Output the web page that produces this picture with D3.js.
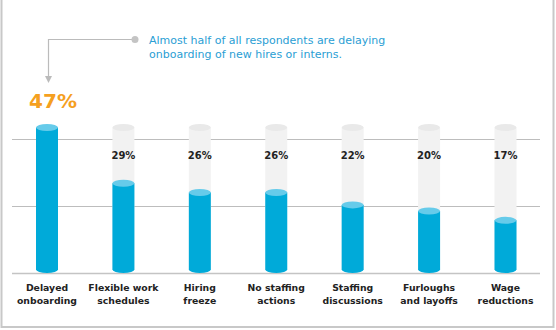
<!DOCTYPE html>
<html>
<head>
<meta charset="utf-8">
<script src="https://cdn.jsdelivr.net/npm/d3@7"></script>
<style>
  body { margin: 0; background: #fff; }
  svg { display: block; }
</style>
</head>
<body>
<div id="chart"></div>
<script>
// data
const categories = ["Delayed onboarding", "Flexible work schedules", "Hiring freeze",
  "No staffing actions", "Staffing discussions", "Furloughs and layoffs", "Wage reductions"];
const labelLines = [["Delayed", "onboarding"], ["Flexible work", "schedules"], ["Hiring", "freeze"],
  ["No staffing", "actions"], ["Staffing", "discussions"], ["Furloughs", "and layoffs"], ["Wage", "reductions"]];
const values = [47, 29, 26, 26, 22, 20, 17];
const gridValues = [0, 21.6, 43.3];
const note = ["Almost half of all respondents are delaying", "onboarding of new hires or interns."];

const width = 556;
const height = 330;
const font = "'DejaVu Sans', sans-serif";

const svg = d3.select("#chart")
  .append("svg")
  .attr("width", width)
  .attr("height", height);

// frame (left, right, bottom)
svg.append("path")
  .attr("d", `M1.5,0 V327 H553.5 V0`)
  .attr("fill", "none")
  .attr("stroke", "#c8c8c8")
  .attr("stroke-width", 2);

const x = d3.scalePoint().domain(categories).range([47, 505.5]);
const y = d3.scaleLinear().domain([0, 47]).range([273, 127.5]);
const bw = 22, ry = 3.5;

// gridlines
svg.append("g")
  .selectAll("line")
  .data(gridValues)
  .join("line")
    .attr("x1", 12).attr("x2", 540)
    .attr("y1", d => Math.round(y(d)) + 0.5)
    .attr("y2", d => Math.round(y(d)) + 0.5)
    .attr("stroke", d => d === 0 ? "#c4c4c4" : "#bdbdbd")
    .attr("stroke-width", d => d === 0 ? 1.5 : 1);

// cylinder shape from value v
const cyl = v => {
  const x0 = -bw / 2, x1 = bw / 2, top = y(v), bot = y(0) - ry;
  return `M${x0},${top} V${bot} A${bw / 2},${ry} 0 0 0 ${x1},${bot} V${top} Z`;
};

const bars = svg.append("g")
  .selectAll("g")
  .data(categories)
  .join("g")
    .attr("transform", d => `translate(${x(d)},0)`);

// gray track (all but the first)
bars.filter((d, i) => i > 0).append("path")
  .attr("d", cyl(47))
  .attr("fill", "#f2f2f2");
bars.filter((d, i) => i > 0).append("ellipse")
  .attr("cy", y(47)).attr("rx", bw / 2).attr("ry", ry)
  .attr("fill", "#e9e9e9");

// blue bar
bars.append("path")
  .attr("d", (d, i) => cyl(values[i]))
  .attr("fill", "#00aad9");
bars.append("ellipse")
  .attr("cy", (d, i) => y(values[i])).attr("rx", bw / 2).attr("ry", ry)
  .attr("fill", "#66cbea");

// value labels
bars.filter((d, i) => i > 0).append("text")
  .attr("y", 159)
  .attr("text-anchor", "middle")
  .attr("font-family", font)
  .attr("font-weight", "bold")
  .attr("font-size", 10)
  .attr("fill", "#222")
  .text((d, i) => values[i + 1] + "%");

svg.append("text")
  .attr("x", x(categories[0]) + 6)
  .attr("y", 108)
  .attr("text-anchor", "middle")
  .attr("font-family", font)
  .attr("font-weight", "bold")
  .attr("font-size", 20)
  .attr("fill", "#f5a01f")
  .text(values[0] + "%");

// category labels
bars.append("text")
  .attr("text-anchor", "middle")
  .attr("font-family", font)
  .attr("font-weight", "bold")
  .attr("font-size", 9.3)
  .attr("fill", "#222")
  .selectAll("tspan")
  .data((d, i) => labelLines[i])
  .join("tspan")
    .attr("x", 0)
    .attr("y", (d, j) => 291 + j * 13)
    .text(d => d);

// annotation
const ax = x(categories[0]) + 1.5;
svg.append("path")
  .attr("d", `M135,39.5 H${ax} V77`)
  .attr("fill", "none")
  .attr("stroke", "#bbb")
  .attr("stroke-width", 1.2);
svg.append("path")
  .attr("d", `M${ax - 3.5},76 L${ax + 3.5},76 L${ax},83 Z`)
  .attr("fill", "#bbb");
svg.append("circle")
  .attr("cx", 135).attr("cy", 39.5).attr("r", 3.5)
  .attr("fill", "#c4c4c4");

svg.append("text")
  .attr("font-family", font)
  .attr("font-size", 11)
  .attr("fill", "#2a9ed4")
  .selectAll("tspan")
  .data(note)
  .join("tspan")
    .attr("x", 149)
    .attr("y", (d, i) => 44 + i * 13.5)
    .text(d => d);
</script>
</body>
</html>
